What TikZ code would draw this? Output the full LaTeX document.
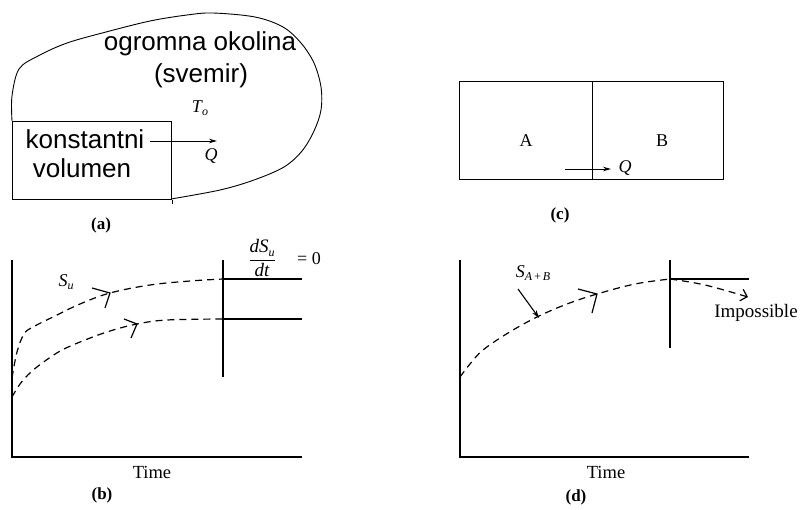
\documentclass[tikz,border=0pt]{standalone}
\usepackage{fontspec}
\setmainfont{Liberation Serif}
\newfontfamily\arialf{Liberation Sans}
\usetikzlibrary{arrows.meta}
\newcommand{\subsc}[1]{\raisebox{-3.5pt}{\fontsize{12}{12}\selectfont #1}}
\begin{document}
\begin{tikzpicture}[x=1pt,y=-1pt,
  thinline/.style={line width=1pt},
  blobline/.style={line width=0.9pt},
  axisline/.style={line width=1.3pt},
  dashcurve/.style={line width=1.2pt, dash pattern=on 7pt off 5pt},
  barb/.style={line width=1.2pt},
  sanslbl/.style={font=\arialf\fontsize{26}{30}\selectfont, inner sep=0pt},
  seriflbl/.style={font=\fontsize{18.5}{22}\selectfont, inner sep=0pt},
  caplbl/.style={font=\bfseries\fontsize{17}{20}\selectfont, inner sep=0pt},
  smalllbl/.style={font=\fontsize{18}{21}\selectfont, inner sep=0pt},
  qarrow/.style={line width=1pt, -{Stealth[length=8pt,width=4.5pt]}}]
\useasboundingbox (0,0) rectangle (800,509);

% ---------- panel (a) ----------
\draw[blobline] plot[smooth, tension=0.55] coordinates {(12,121) (12,96) (19,69) (38,56) (67,43) (106,32) (150,21) (187,15) (213,13) (255,17) (283,27) (301,43) (314,63) (321,87) (321,110) (314,131) (302,151) (284,167) (254,180) (220,190) (171,199)};
\node[draw, thinline, minimum width=159pt, minimum height=78pt, inner sep=0pt, anchor=north west] (vol) at (12,121) {};
\draw[thinline] (vol.south east) -- ++(0,4);
\node[sanslbl, anchor=base] (okolina) at (200,50) {ogromna okolina};
\node[sanslbl, anchor=base] (svemir) at (201,82) {(svemir)};
\node[sanslbl, anchor=base] (konst) at (85,148) {konstantni};
\node[sanslbl, anchor=base] (volumen) at (82,177) {volumen};
\node[smalllbl] (T0) at (200,108) {\itshape T\subsc{\itshape o}};
\coordinate (qa1) at (150,141);
\coordinate (qa2) at (217,141);
\draw[qarrow] (qa1) -- (qa2);
\node[smalllbl] (Qa) at (211,156) {\itshape Q};
\node[caplbl] (capa) at (101,225) {(a)};

% ---------- panel (c) ----------
\node[draw, thinline, minimum width=264pt, minimum height=98pt, inner sep=0pt, anchor=north west] (box) at (459,81) {};
\draw[thinline] (592,81) -- (592,179);
\draw[thinline] (592,81) -- (596,81);
\node[smalllbl] (A) at (526,141) {A};
\node[smalllbl] (B) at (662,141) {B};
\coordinate (qc1) at (565,169);
\coordinate (qc2) at (611,169);
\draw[qarrow] (qc1) -- (qc2);
\node[smalllbl] (Qc) at (625,168) {\itshape Q};
\node[caplbl] (capc) at (560,215) {(c)};

% ---------- panel (b) ----------
\draw[axisline] (12,260) -- (12,457) -- (302,457);
\draw[axisline] (223,260) -- (223,377);
\draw[axisline] (223,279) -- (302,279);
\draw[axisline] (223,319) -- (302,319);
\draw[dashcurve] plot[smooth, tension=0.6] coordinates {(12,378) (17,352) (24,334) (33,327) (55,316) (80,304) (110,293) (150,285) (190,281) (223,279)};
\draw[dashcurve] plot[smooth, tension=0.6] coordinates {(12,397) (20,384) (31,372) (45,361) (62,350) (85,340) (110,331) (137,324) (167,320) (223,319)};
\draw[barb] (92,288) -- (110,293) -- (105,308);
\draw[barb] (124,319) -- (137,324) -- (131,338);
\node[smalllbl] (Su) at (66,282) {\itshape S\subsc{\itshape u}};
\node[smalllbl, font=\fontsize{19}{22}\selectfont] (frac) at (262,258) {$\displaystyle\frac{\textit{dS}\subsc{\itshape u}}{\textit{dt}}$};
\node[smalllbl] (eq0) at (309,259) {= 0};
\node[seriflbl] (timeb) at (152,472) {Time};
\node[caplbl] (capb) at (102,495) {(b)};

% ---------- panel (d) ----------
\draw[axisline] (460,260) -- (460,457) -- (749,457);
\draw[axisline] (670,260) -- (670,348);
\draw[axisline] (670,279) -- (749,279);
\draw[dashcurve] plot[smooth, tension=0.6] coordinates {(460,377) (470,364) (483,350) (508,333) (537,317) (567,304) (597,294) (635,284) (670,279)};
\draw[barb] (578,289) -- (597,294) -- (592,313);
\draw[dashcurve, -{Straight Barb[length=6pt,width=12pt]}] plot[smooth, tension=0.6] coordinates {(670,279) (705,285) (748,297)};
\node[smalllbl] (SAB) at (533,273) {\itshape S\subsc{\itshape A\,{\upshape +}\,B}};
\coordinate (sa1) at (518,289);
\coordinate (sa2) at (539,318);
\draw[line width=1.1pt, -{Stealth[length=8pt,width=5pt]}] (sa1) -- (sa2);
\node[seriflbl, font=\fontsize{19}{22}\selectfont] (imp) at (756,313) {Impossible};
\node[seriflbl] (timed) at (606,472) {Time};
\node[caplbl] (capd) at (576,497) {(d)};
\end{tikzpicture}
\end{document}
